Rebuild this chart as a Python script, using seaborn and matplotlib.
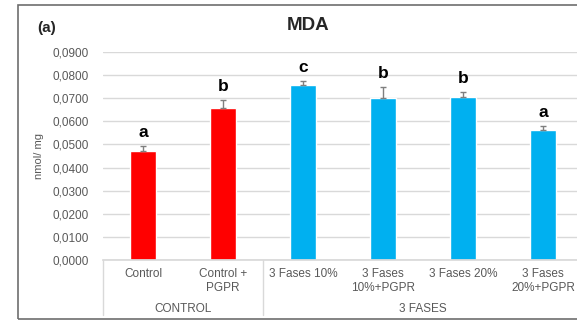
"""
MDA content per treatment (nmol/mg), bar chart with SE bars and
significance letters, two-level category axis (CONTROL / 3 FASES).
"""

import matplotlib
matplotlib.use("Agg")
import matplotlib.pyplot as plt
from matplotlib.patches import Rectangle
from matplotlib.ticker import FuncFormatter
import numpy as np
import pandas as pd
import seaborn as sns

treatments = ["Control", "Control +\nPGPR", "3 Fases 10%", "3 Fases\n10%+PGPR",
              "3 Fases 20%", "3 Fases\n20%+PGPR"]
groups = ["CONTROL", "CONTROL", "3 FASES", "3 FASES", "3 FASES", "3 FASES"]
mda = [0.0470, 0.0659, 0.0759, 0.0703, 0.0707, 0.0563]
mda_err = [0.0025, 0.0035, 0.0016, 0.0047, 0.0020, 0.0018]
letters = ["a", "b", "c", "b", "b", "a"]
group_colors = {"CONTROL": "#FF0000", "3 FASES": "#00B0F0"}

GRID = "#D9D9D9"
TXT = "#595959"

sns.set_theme(style="white")
plt.rcParams["font.family"] = ["Liberation Sans", "DejaVu Sans"]

df = pd.DataFrame({"treatment": treatments, "group": groups, "mda": mda})

fig = plt.figure(figsize=(5.77, 3.22), dpi=100)
ax = fig.add_axes([103 / 577, 1 - 260 / 322, 480 / 577, 208 / 322])

sns.barplot(data=df, x="treatment", y="mda", hue="group", palette=group_colors,
            dodge=False, width=0.325, errorbar=None, legend=False,
            saturation=1, ax=ax, zorder=2)

x = np.arange(len(treatments))
ax.errorbar(x, mda, yerr=[np.zeros(len(mda_err)), mda_err], fmt="none",
            ecolor="#7F7F7F", elinewidth=1, capsize=2.5, capthick=1, zorder=3)

for xi, m, e, lab in zip(x, mda, mda_err, letters):
    ax.text(xi, m + e + 0.0058, lab, ha="center", va="center",
            fontsize=12.5, fontweight="bold", color="black")

ax.set_xlim(-0.5, len(treatments) - 0.5)
ax.set_ylim(0, 0.09)
ax.set_yticks(np.arange(0, 0.0901, 0.01))
ax.yaxis.set_major_formatter(FuncFormatter(lambda v, _: f"{v:.4f}".replace(".", ",")))
ax.grid(axis="y", color=GRID, linewidth=1, zorder=0)
ax.set_axisbelow(True)
for s in ["top", "right", "left"]:
    ax.spines[s].set_visible(False)
ax.spines["bottom"].set_color(GRID)
ax.tick_params(axis="both", length=0, labelsize=8.5, labelcolor=TXT)
ax.tick_params(axis="x", pad=6)
ax.tick_params(axis="y", pad=10)
ax.set_xlabel("")
ax.set_ylabel("nmol/ mg", fontsize=8, color=TXT, labelpad=6)

# second level of the category axis
trans = ax.get_xaxis_transform()
for b in [-0.5, 1.5]:
    ax.plot([b, b], [0, -0.265], transform=trans, color=GRID, lw=1, clip_on=False)
for name, xc in [("CONTROL", 0.5), ("3 FASES", 3.5)]:
    ax.text(xc, -0.236, name, transform=trans, ha="center", va="center",
            fontsize=8.5, color=TXT)

fig.text(308 / 577, 1 - 25 / 322, "MDA", ha="center", va="center",
         fontsize=13.5, fontweight="bold")
fig.text(47 / 577, 1 - 28 / 322, "(a)", ha="center", va="center",
         fontsize=11, fontweight="bold")

fig.patches.append(Rectangle((18 / 577, 1 - 319 / 322), 1.0, 314 / 322,
                             transform=fig.transFigure, fill=False,
                             edgecolor="#6E6E6E", linewidth=1.2))

fig.savefig("out.png", dpi=100)
